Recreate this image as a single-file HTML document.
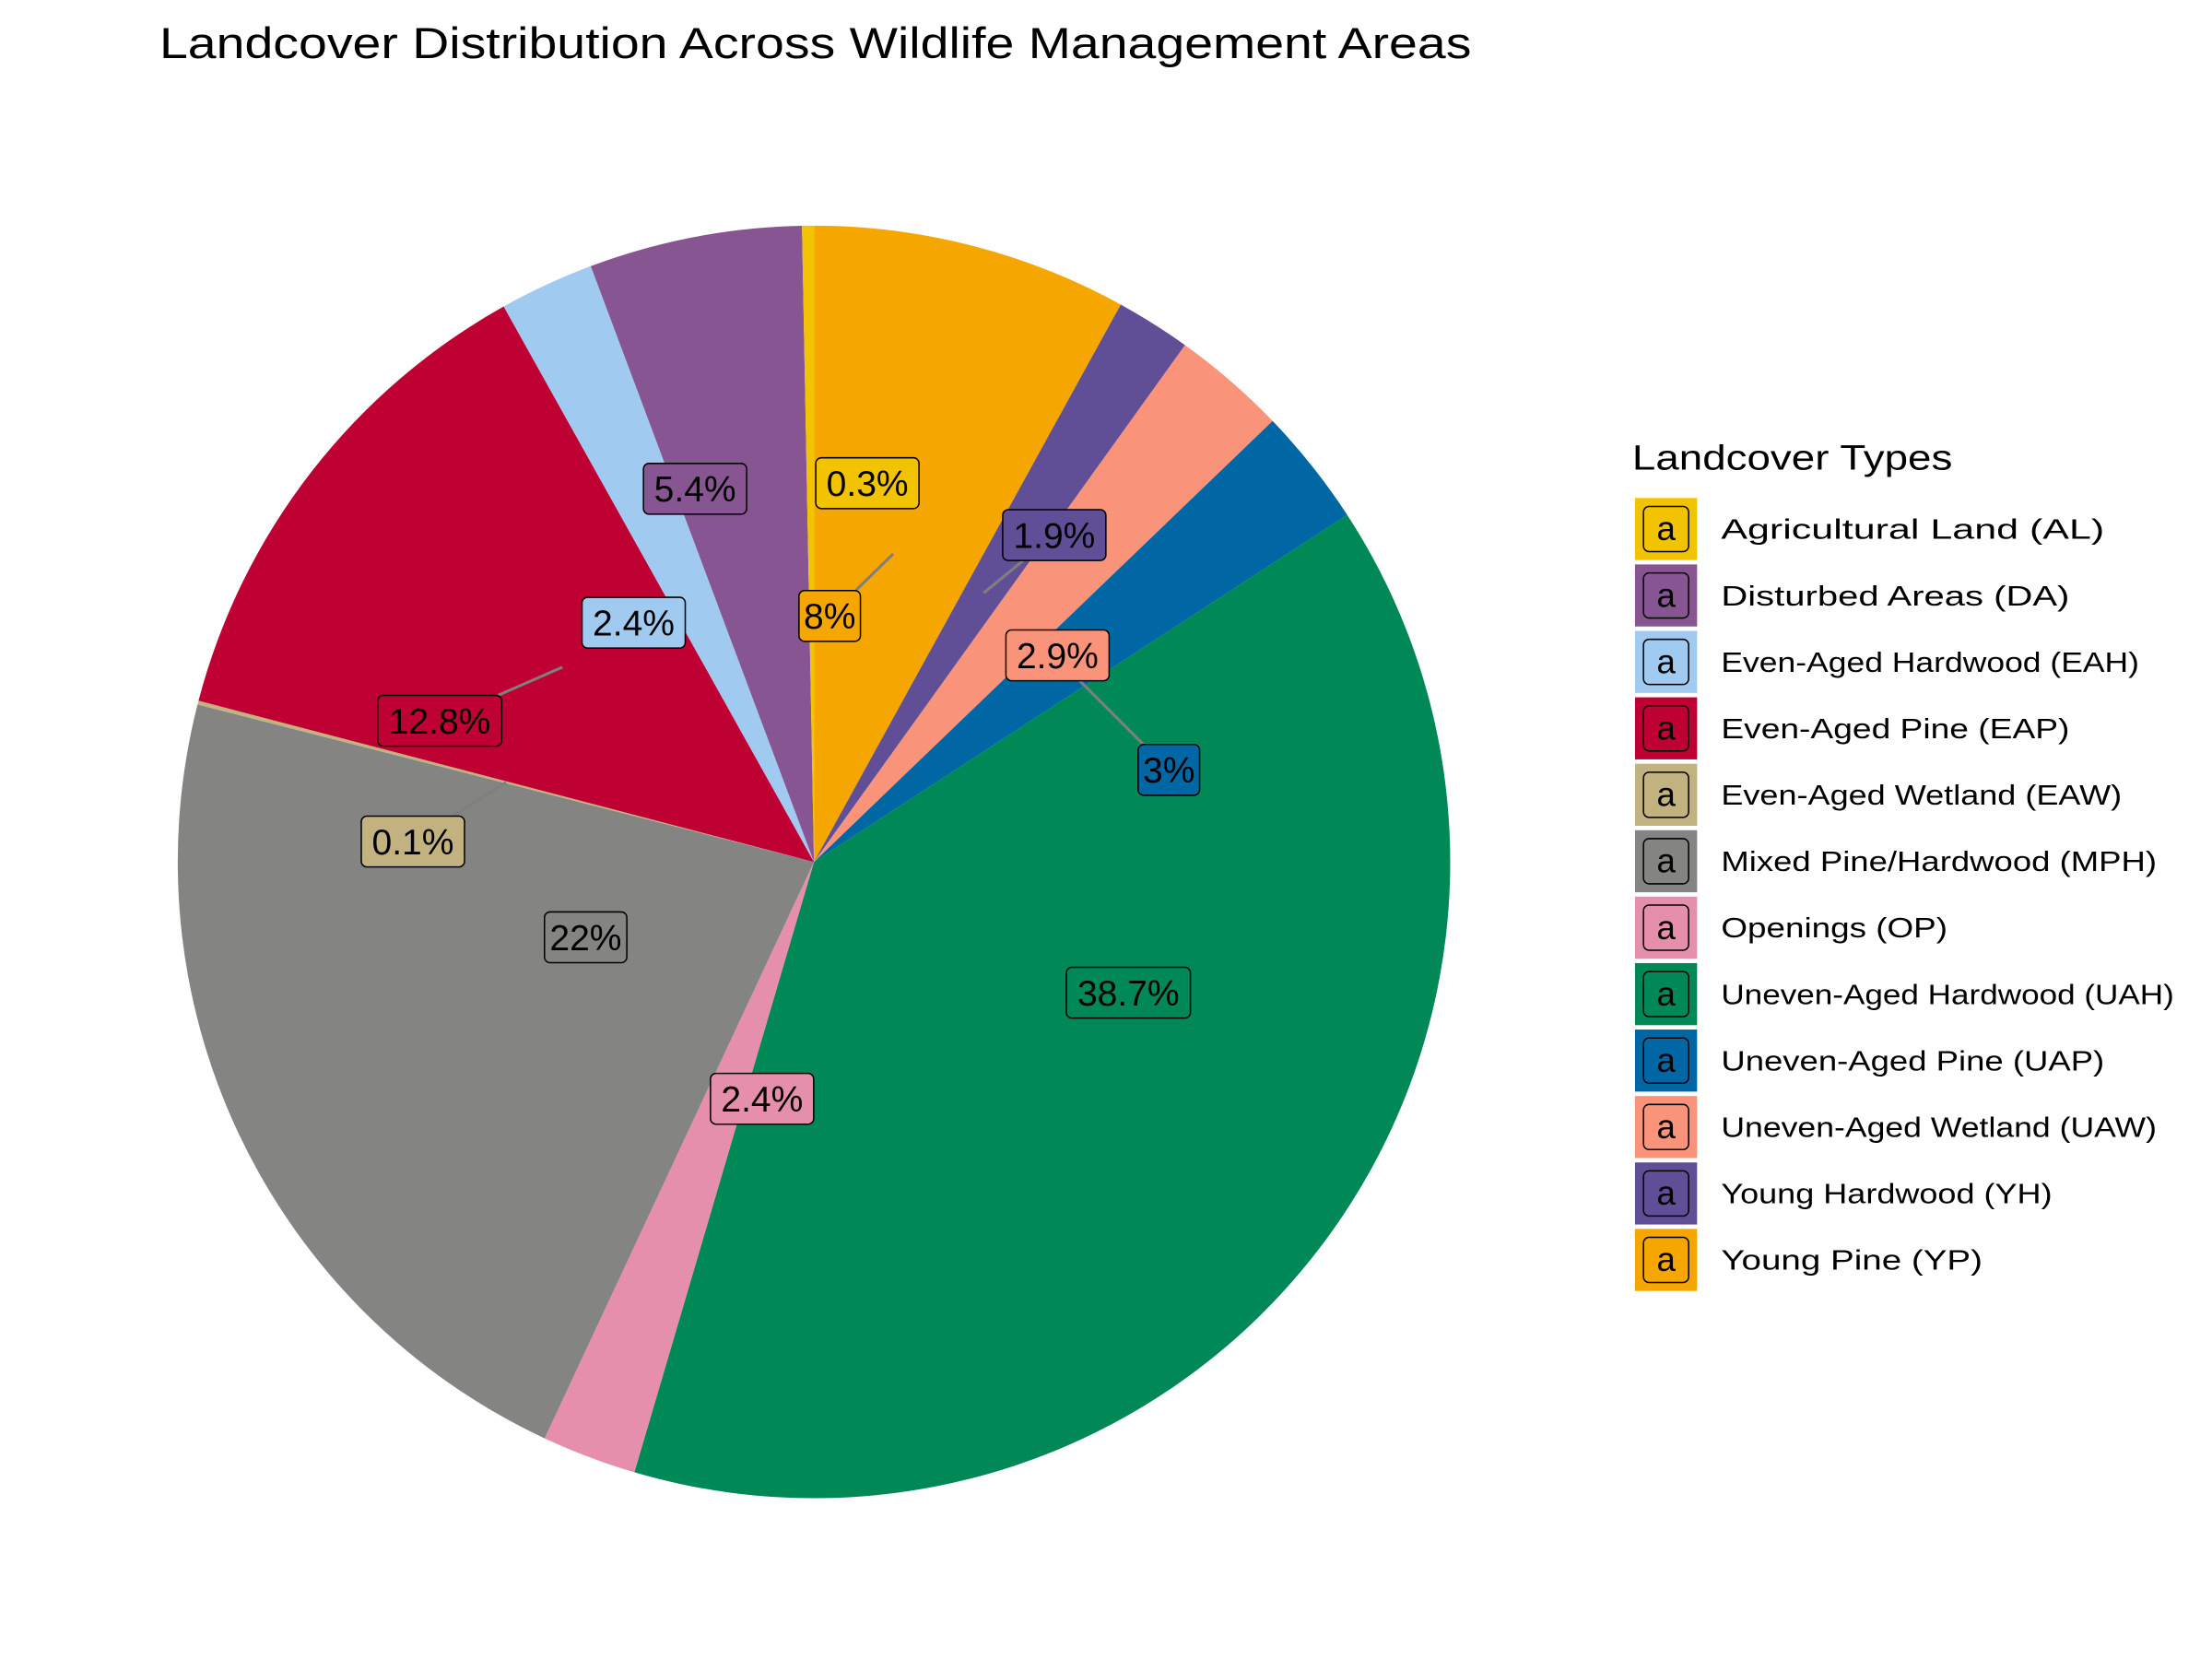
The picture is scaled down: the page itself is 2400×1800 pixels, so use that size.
<!DOCTYPE html>
<html><head><meta charset="utf-8">
<style>
html,body{margin:0;padding:0;background:#fff;}
svg{display:block;font-family:"Liberation Sans",Arial,sans-serif;}
</style></head>
<body>
<svg id="chart" width="2400" height="1800" viewBox="0 0 1568 1176" xmlns="http://www.w3.org/2000/svg">
<rect width="1568" height="1176" fill="#fff"/>
<text x="113" y="41" font-size="31" textLength="930" lengthAdjust="spacingAndGlyphs" fill="#000">Landcover Distribution Across Wildlife Management Areas</text>
<g id="slices"></g>
<g id="segs"></g>
<g id="labels"></g>
<text x="1157" y="333" font-size="25" textLength="227" lengthAdjust="spacingAndGlyphs" fill="#000">Landcover Types</text>
<g id="legend"></g>
</svg>
<script>
// Data (clockwise from 12 o'clock)
const categories = ["Young Pine (YP)","Young Hardwood (YH)","Uneven-Aged Wetland (UAW)","Uneven-Aged Pine (UAP)","Uneven-Aged Hardwood (UAH)","Openings (OP)","Mixed Pine/Hardwood (MPH)","Even-Aged Wetland (EAW)","Even-Aged Pine (EAP)","Even-Aged Hardwood (EAH)","Disturbed Areas (DA)","Agricultural Land (AL)"];
const values = [8, 1.9, 2.9, 3, 38.7, 2.4, 22, 0.1, 12.8, 2.4, 5.4, 0.3];
const valueLabels = ["8%","1.9%","2.9%","3%","38.7%","2.4%","22%","0.1%","12.8%","2.4%","5.4%","0.3%"];
const colors = ["#F6A600","#604E97","#F99379","#0067A5","#008856","#E68FAC","#848482","#C2B280","#BE0032","#A1CAF1","#875692","#F2C300"];
// label repel offsets (layout, px)
const offX = [-45,50,25,75,42,43,42,-66,-87,-33,-42,40];
const offY = [44,-41,24,75,-42,-43,-43,42,38,35,-43,-43];
const showSeg = [1,1,0,1,0,0,0,1,1,0,0,0];
const legendOrder = ["Agricultural Land (AL)","Disturbed Areas (DA)","Even-Aged Hardwood (EAH)","Even-Aged Pine (EAP)","Even-Aged Wetland (EAW)","Mixed Pine/Hardwood (MPH)","Openings (OP)","Uneven-Aged Hardwood (UAH)","Uneven-Aged Pine (UAP)","Uneven-Aged Wetland (UAW)","Young Hardwood (YH)","Young Pine (YP)"];

const NS="http://www.w3.org/2000/svg";
const cx=577, cy=611, R=451;
const total=values.reduce((a,b)=>a+b,0);
function pt(frac,r){const a=frac*2*Math.PI;return [cx+r*Math.sin(a), cy-r*Math.cos(a)];}
function mk(t,attrs){const e=document.createElementNS(NS,t);for(const k in attrs)e.setAttribute(k,attrs[k]);return e;}
const gS=document.getElementById('slices'),gL=document.getElementById('labels'),gG=document.getElementById('segs'),gLeg=document.getElementById('legend');
let cum=0;
values.forEach((v,i)=>{
  const f0=cum/total, f1=(cum+v)/total; cum+=v;
  const [x0,y0]=pt(f0,R),[x1,y1]=pt(f1,R);
  const large=(f1-f0)>0.5?1:0;
  const p=mk('path',{d:`M${cx},${cy} L${x0},${y0} A${R},${R} 0 ${large} 1 ${x1},${y1} Z`,fill:colors[i]});
  
  
  gS.appendChild(p);
  const [ax,ay]=pt((f0+f1)/2,R*0.5);
  const lx=ax+offX[i], ly=ay+offY[i];
  const fs=25.5, w=valueLabels[i].length*fs*0.58+14, h=36;
  if(showSeg[i]){
    const dx=ax-lx, dy=ay-ly;
    const t=Math.min(Math.abs((w/2)/(dx||1e-6)),Math.abs((h/2)/(dy||1e-6)));
    const ex=lx+dx*Math.min(t,1), ey=ly+dy*Math.min(t,1);
    const ln=mk('line',{x1:ax,y1:ay,x2:ex,y2:ey,stroke:'#7f7f7f','stroke-width':2});
    
    
    gG.appendChild(ln);
  }
  const g=mk('g',{});
  
  
  g.appendChild(mk('rect',{x:lx-w/2,y:ly-h/2,width:w,height:h,rx:4,fill:colors[i],stroke:'#000','stroke-width':1}));
  const t=mk('text',{x:lx,y:ly+9,'font-size':fs,'text-anchor':'middle',fill:'#000'});
  t.textContent=valueLabels[i];
  g.appendChild(t);
  gL.appendChild(g);
});
legendOrder.forEach((name,j)=>{
  const i=categories.indexOf(name);
  const y=375+j*47.1;
  const g=mk('g',{});
  
  
  g.appendChild(mk('rect',{x:1159,y:y-22,width:44,height:44,fill:colors[i]}));
  g.appendChild(mk('rect',{x:1165,y:y-16,width:32,height:32,rx:4,fill:colors[i],stroke:'#000','stroke-width':1}));
  const a=mk('text',{x:1181,y:y+8,'font-size':24,'text-anchor':'middle',fill:'#000'});a.textContent='a';g.appendChild(a);
  const t=mk('text',{x:1220,y:y+7,'font-size':20,fill:'#000'});t.textContent=name;
  t.setAttribute('textLength', (name.length*12.35).toFixed(1));
  t.setAttribute('lengthAdjust','spacingAndGlyphs');
  g.appendChild(t);
  gLeg.appendChild(g);
});
</script>
</body></html>
